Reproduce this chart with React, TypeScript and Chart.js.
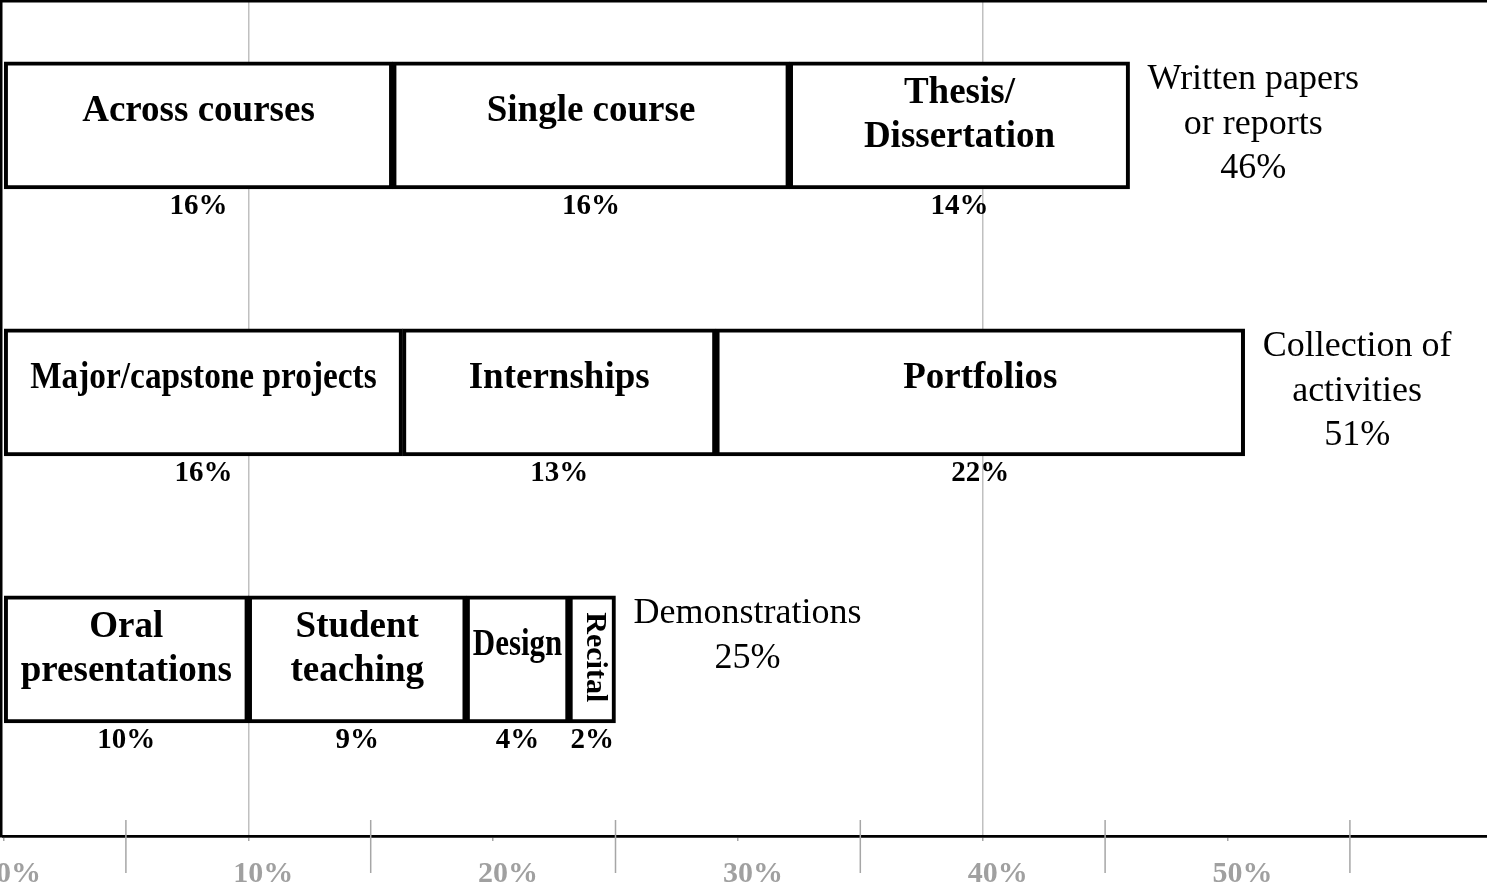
import React, { useEffect, useRef } from 'react';
import { Chart, registerables } from 'chart.js';

Chart.register(...registerables);

const SERIF = '"Liberation Serif", "Times New Roman", Times, serif';

// Rows (groups)
const rowKeys = [0, 1, 2];
const groupLabelLines = [['Written papers', 'or reports'], ['Collection of', 'activities'], ['Demonstrations']];
const groupTotals = ['46%', '51%', '25%'];

// Segment values (percent), per segment position within each row
const part1Values: (number | null)[] = [15.9, 16.3, 10.0];
const part2Values: (number | null)[] = [16.2, 12.8, 8.9];
const part3Values: (number | null)[] = [13.9, 21.6, 4.2];
const part4Values: (number | null)[] = [null, null, 1.9];

// Segment names
const part1Names = ['Across courses', 'Major/capstone projects', 'Oral\npresentations'];
const part2Names = ['Single course', 'Internships', 'Student\nteaching'];
const part3Names = ['Thesis/\nDissertation', 'Portfolios', 'Design'];
const part4Names = [null, null, 'Recital'];

// Segment percent labels
const part1Pct = ['16%', '16%', '10%'];
const part2Pct = ['16%', '13%', '9%'];
const part3Pct = ['14%', '22%', '4%'];
const part4Pct = [null, null, '2%'];

// Axis ticks
const xTickValues = [0, 10, 20, 30, 40, 50];
const xTickLabels = ['0%', '10%', '20%', '30%', '40%', '50%'];
const xGridValues = [10, 40];
const xMinorTicks = [5, 15, 25, 35, 45, 55];

const parts = [
  { values: part1Values, names: part1Names, pct: part1Pct },
  { values: part2Values, names: part2Names, pct: part2Pct },
  { values: part3Values, names: part3Names, pct: part3Pct },
  { values: part4Values, names: part4Names, pct: part4Pct },
];

const BAR_THICKNESS = 127;

const overlayPlugin = {
  id: 'overlay',
  afterDraw(chart: any) {
    const ctx = chart.ctx as CanvasRenderingContext2D;
    const xs = chart.scales.x;
    const ys = chart.scales.y;
    const area = chart.chartArea;
    ctx.save();

    // frame (top and left)
    ctx.fillStyle = '#000';
    ctx.fillRect(0, 0, chart.width, 2.5);
    ctx.fillRect(0, 0, 2.5, area.bottom + 1.5);

    // long minor tick marks
    ctx.strokeStyle = '#a6a6a6';
    ctx.lineWidth = 1.5;
    xMinorTicks.forEach((v) => {
      const x = xs.getPixelForValue(v);
      ctx.beginPath();
      ctx.moveTo(x, area.bottom - 16);
      ctx.lineTo(x, area.bottom + 37);
      ctx.stroke();
    });

    // segment labels
    ctx.fillStyle = '#000';
    ctx.textAlign = 'center';
    ctx.textBaseline = 'middle';
    chart.data.datasets.forEach((ds: any, di: number) => {
      const meta = chart.getDatasetMeta(di);
      meta.data.forEach((el: any, j: number) => {
        const raw = ds.data[j];
        const row = raw.y;
        const name = parts[di].names[row];
        const pct = parts[di].pct[row];
        if (!name) return;
        const p = el.getProps(['x', 'y', 'base', 'height'], true);
        const left = Math.min(p.x, p.base);
        const right = Math.max(p.x, p.base);
        const w = right - left;
        const cx = (left + right) / 2;
        const bottom = p.y + p.height / 2;
        if (w < 60) {
          ctx.save();
          ctx.translate(cx + 3, p.y - 2);
          ctx.rotate(Math.PI / 2);
          ctx.font = `bold 30px ${SERIF}`;
          ctx.fillText(name, 0, 0, p.height - 20);
          ctx.restore();
        } else {
          const lines = name.split('\n');
          ctx.font = `bold 37px ${SERIF}`;
          const lh = 44;
          const center = p.y - (lines.length > 1 ? 10 : 14);
          lines.forEach((ln: string, k: number) => {
            ctx.fillText(ln, cx, center + (k - (lines.length - 1) / 2) * lh, w * 0.87);
          });
        }
        if (pct) {
          ctx.font = `bold 29px ${SERIF}`;
          ctx.fillText(pct, cx, bottom + 18);
        }
      });
    });

    // group labels at right of each bar
    ctx.font = `36px ${SERIF}`;
    rowKeys.forEach((r) => {
      let total = 0;
      parts.forEach((pt) => {
        const v = pt.values[r];
        if (v != null) total += v;
      });
      const xEnd = xs.getPixelForValue(total);
      const yTop = ys.getPixelForValue(r) - BAR_THICKNESS / 2;
      const lines = [...groupLabelLines[r], groupTotals[r]];
      const maxW = Math.max(...lines.map((l) => ctx.measureText(l).width));
      const cx = xEnd + 18 + maxW / 2;
      lines.forEach((ln, k) => ctx.fillText(ln, cx, yTop + 18 + k * 44.5));
    });

    ctx.restore();
  },
};

export default function App() {
  const ref = useRef<HTMLCanvasElement>(null);

  useEffect(() => {
    document.body.style.margin = '0';
    const datasets = parts.map((pt, di) => ({
      label: `part${di + 1}`,
      data: rowKeys
        .map((r, i) => (pt.values[i] == null ? null : { x: pt.values[i], y: r }))
        .filter((d) => d !== null),
      backgroundColor: '#ffffff',
      borderColor: '#000000',
      borderWidth: 4,
      borderSkipped: false,
      barThickness: BAR_THICKNESS,
    }));

    const chart = new Chart(ref.current as HTMLCanvasElement, {
      type: 'bar',
      data: { datasets: datasets as any },
      options: {
        indexAxis: 'y',
        responsive: false,
        animation: false,
        devicePixelRatio: 1,
        layout: { padding: { left: 3.5, right: 0, top: 0, bottom: 0 } },
        plugins: {
          legend: { display: false },
          tooltip: { enabled: false },
        },
        scales: {
          x: {
            type: 'linear',
            stacked: true,
            min: 0,
            max: 60.6,
            position: 'bottom',
            afterBuildTicks: (scale: any) => {
              scale.ticks = xTickValues.map((v) => ({ value: v }));
            },
            afterFit: (scale: any) => {
              scale.height = 53;
              scale.paddingLeft = 0;
              scale.paddingRight = 0;
            },
            grid: {
              color: (c: any) => (c.tick && xGridValues.includes(c.tick.value) ? '#c0c0c0' : 'rgba(0,0,0,0)'),
              lineWidth: 1.5,
              tickColor: '#a6a6a6',
              tickLength: 5,
              tickWidth: 1.5,
              drawTicks: true,
              drawOnChartArea: true,
            },
            border: { display: true, color: '#000000', width: 2.7 },
            ticks: {
              autoSkip: false,
              maxRotation: 0,
              minRotation: 0,
              labelOffset: 15,
              padding: 15,
              color: '#a0a0a0',
              font: { family: SERIF, size: 30, weight: 'bold', lineHeight: 1.2 },
              callback: (value: any) => {
                const idx = xTickValues.indexOf(Number(value));
                return idx >= 0 ? xTickLabels[idx] : '';
              },
            },
          },
          y: {
            type: 'linear',
            stacked: true,
            display: false,
            reverse: true,
            offset: false,
            grid: { offset: false },
            min: -0.4693,
            max: 2.6618,
          },
        },
      } as any,
      plugins: [overlayPlugin],
    });
    return () => chart.destroy();
  }, []);

  return (
    <div style={{ width: 1487, height: 889, background: '#ffffff' }}>
      <canvas ref={ref} width={1487} height={889} style={{ display: 'block', width: 1487, height: 889 }} />
    </div>
  );
}
